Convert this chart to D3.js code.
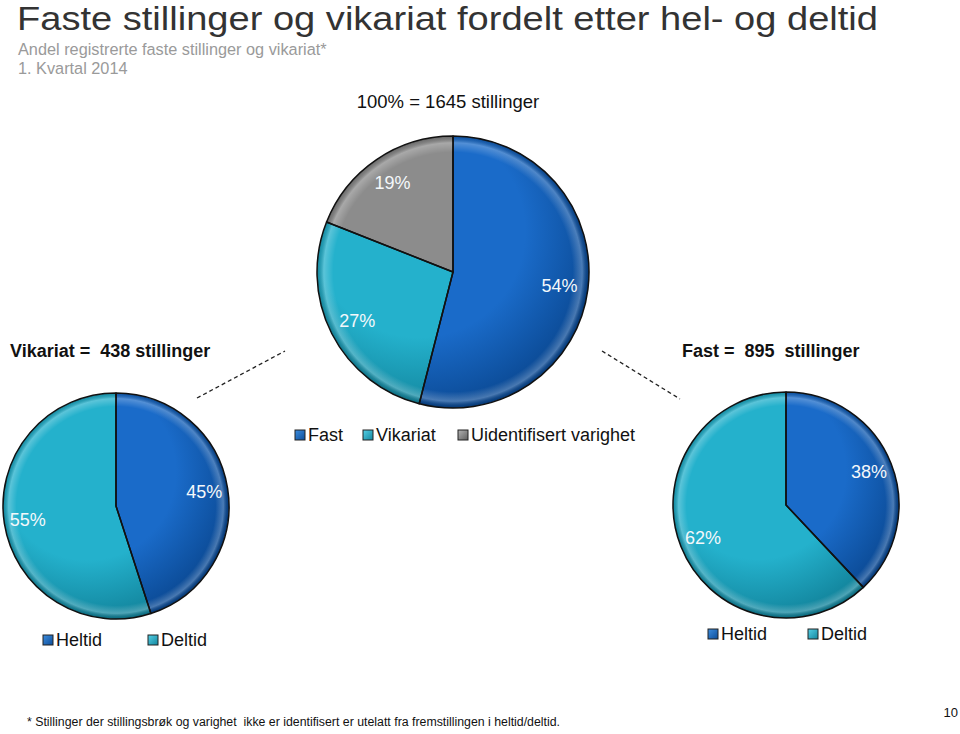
<!DOCTYPE html>
<html>
<head>
<meta charset="utf-8">
<script src="https://cdn.jsdelivr.net/npm/d3@7"></script>
<style>
  html, body { margin: 0; padding: 0; background: #fff; }
  svg { display: block; font-family: "Liberation Sans", Arial, Helvetica, sans-serif; }
</style>
</head>
<body>
<svg id="chart" width="960" height="734"></svg>
<script>
// ---- Data ----
const topCategories = ["Fast", "Vikariat", "Uidentifisert varighet"];
const topValues = [54, 27, 19];
const totalLabel = "100% = 1645 stillinger";

const splitCategories = ["Heltid", "Deltid"];
const vikariatValues = [45, 55];
const fastValues = [38, 62];
const vikariatLabel = "Vikariat =  438 stillinger";
const fastLabel = "Fast =  895  stillinger";

const titleText = "Faste stillinger og vikariat fordelt etter hel- og deltid";
const subtitleText = "Andel registrerte faste stillinger og vikariat*";
const periodText = "1. Kvartal 2014";
const footnoteText = "* Stillinger der stillingsbrøk og varighet  ikke er identifisert er utelatt fra fremstillingen i heltid/deltid.";
const pageNumber = "10";

// ---- Styles ----
const palette = {
  "Fast":   { base: "#1a6bc9", dark: "#0c4c98", light: "#3d8ee0" },
  "Vikariat": { base: "#24b1cc", dark: "#13869e", light: "#55d0e6" },
  "Uidentifisert varighet": { base: "#8c8c8c", dark: "#5e5e5e", light: "#b4b4b4" },
  "Heltid": { base: "#1a6bc9", dark: "#0c4c98", light: "#3d8ee0" },
  "Deltid": { base: "#24b1cc", dark: "#13869e", light: "#55d0e6" }
};

const svg = d3.select("#chart");
const defs = svg.append("defs");

function makeGradient(id, r, c) {
  const g = defs.append("radialGradient")
    .attr("id", id)
    .attr("gradientUnits", "userSpaceOnUse")
    .attr("cx", -r * 0.25).attr("cy", -r * 0.3).attr("r", r * 1.3)
    .attr("fx", -r * 0.25).attr("fy", -r * 0.3);
  g.append("stop").attr("offset", 0).attr("stop-color", c.base);
  g.append("stop").attr("offset", 0.6).attr("stop-color", c.base);
  g.append("stop").attr("offset", 1).attr("stop-color", c.dark);
  const b = defs.append("radialGradient")
    .attr("id", id + "-bevel")
    .attr("gradientUnits", "userSpaceOnUse")
    .attr("cx", 0).attr("cy", 0).attr("r", r);
  b.append("stop").attr("offset", 0.88).attr("stop-color", "#fff").attr("stop-opacity", 0);
  b.append("stop").attr("offset", 0.95).attr("stop-color", "#fff").attr("stop-opacity", 0.25);
  b.append("stop").attr("offset", 0.985).attr("stop-color", "#000").attr("stop-opacity", 0.15);
  b.append("stop").attr("offset", 1).attr("stop-color", "#000").attr("stop-opacity", 0.3);
}

function drawPie(id, cx, cy, r, categories, values) {
  const g = svg.append("g").attr("transform", `translate(${cx},${cy})`);
  const data = categories.map((c, i) => ({ cat: c, value: values[i] }));
  const pie = d3.pie().sort(null).value(d => d.value);
  const arc = d3.arc().innerRadius(0).outerRadius(r);
  const labelArc = d3.arc().innerRadius(r * 0.79).outerRadius(r * 0.79);
  const arcs = pie(data);
  categories.forEach((c, i) => makeGradient(`${id}-${i}`, r, palette[c]));
  g.selectAll("path.slice").data(arcs).enter().append("path")
    .attr("class", "slice")
    .attr("d", arc)
    .attr("fill", (d, i) => `url(#${id}-${i})`);
  g.selectAll("path.bevel").data(arcs).enter().append("path")
    .attr("class", "bevel")
    .attr("d", arc)
    .attr("fill", (d, i) => `url(#${id}-${i}-bevel)`)
    .attr("stroke", "#111")
    .attr("stroke-width", 1.5)
    .attr("stroke-linejoin", "round");
  g.selectAll("text.pct").data(arcs).enter().append("text")
    .attr("class", "pct")
    .attr("transform", d => `translate(${labelArc.centroid(d)})`)
    .attr("text-anchor", "middle")
    .attr("dy", "0.35em")
    .attr("fill", "#f4f8fb")
    .style("font-size", "18px")
    .text(d => d.data.value + "%");
}

function legendSwatch(x, y, cat) {
  const c = palette[cat];
  const gid = "lg-" + cat.replace(/\s+/g, "") + "-" + Math.round(x);
  const lg = defs.append("linearGradient").attr("id", gid)
    .attr("x1", 0).attr("y1", 0).attr("x2", 1).attr("y2", 1);
  lg.append("stop").attr("offset", 0).attr("stop-color", c.light);
  lg.append("stop").attr("offset", 1).attr("stop-color", c.dark);
  svg.append("rect").attr("x", x).attr("y", y).attr("width", 10).attr("height", 10)
    .attr("fill", `url(#${gid})`).attr("stroke", "#222").attr("stroke-width", 1);
}

function legend(items, xs, y) {
  items.forEach((cat, i) => {
    legendSwatch(xs[i], y - 10, cat);
    svg.append("text").attr("x", xs[i] + 13).attr("y", y + 1)
      .style("font-size", "18px").attr("fill", "#111").text(cat);
  });
}

// ---- Titles ----
svg.append("text").attr("x", 17).attr("y", 30)
  .style("font-size", "34px").attr("fill", "#333")
  .attr("textLength", 861).attr("lengthAdjust", "spacingAndGlyphs")
  .text(titleText);
svg.append("text").attr("x", 18).attr("y", 55)
  .style("font-size", "16.3px").attr("fill", "#9a9a9a").text(subtitleText);
svg.append("text").attr("x", 18).attr("y", 74)
  .style("font-size", "16.3px").attr("fill", "#9a9a9a").text(periodText);

svg.append("text").attr("x", 448).attr("y", 108).attr("text-anchor", "middle")
  .style("font-size", "18.5px").attr("fill", "#111").text(totalLabel);

svg.append("text").attr("x", 10).attr("y", 357)
  .style("font-size", "18px").style("font-weight", "bold").style("white-space", "pre")
  .attr("fill", "#111").text(vikariatLabel);
svg.append("text").attr("x", 682).attr("y", 357)
  .style("font-size", "18px").style("font-weight", "bold").style("white-space", "pre")
  .attr("fill", "#111").text(fastLabel);

// connector dashed lines
svg.append("line").attr("x1", 197).attr("y1", 398).attr("x2", 285).attr("y2", 351)
  .attr("stroke", "#222").attr("stroke-width", 1.3).attr("stroke-dasharray", "4,3");
svg.append("line").attr("x1", 602).attr("y1", 351).attr("x2", 680).attr("y2", 399)
  .attr("stroke", "#222").attr("stroke-width", 1.3).attr("stroke-dasharray", "4,3");

// ---- Pies ----
drawPie("top", 453, 272, 136, topCategories, topValues);
drawPie("vik", 116, 506, 113, splitCategories, vikariatValues);
drawPie("fast", 786, 505, 113, splitCategories, fastValues);

// ---- Legends ----
legend(topCategories, [295, 363, 458], 440);
legend(splitCategories, [43, 148], 645);
legend(splitCategories, [708, 808], 639);

// ---- Footer ----
svg.append("text").attr("x", 27).attr("y", 726)
  .style("font-size", "12.5px").style("white-space", "pre")
  .attr("textLength", 533).attr("lengthAdjust", "spacingAndGlyphs")
  .attr("fill", "#111").text(footnoteText);
svg.append("text").attr("x", 958).attr("y", 717).attr("text-anchor", "end")
  .style("font-size", "13px").attr("fill", "#111").text(pageNumber);
</script>
</body>
</html>
